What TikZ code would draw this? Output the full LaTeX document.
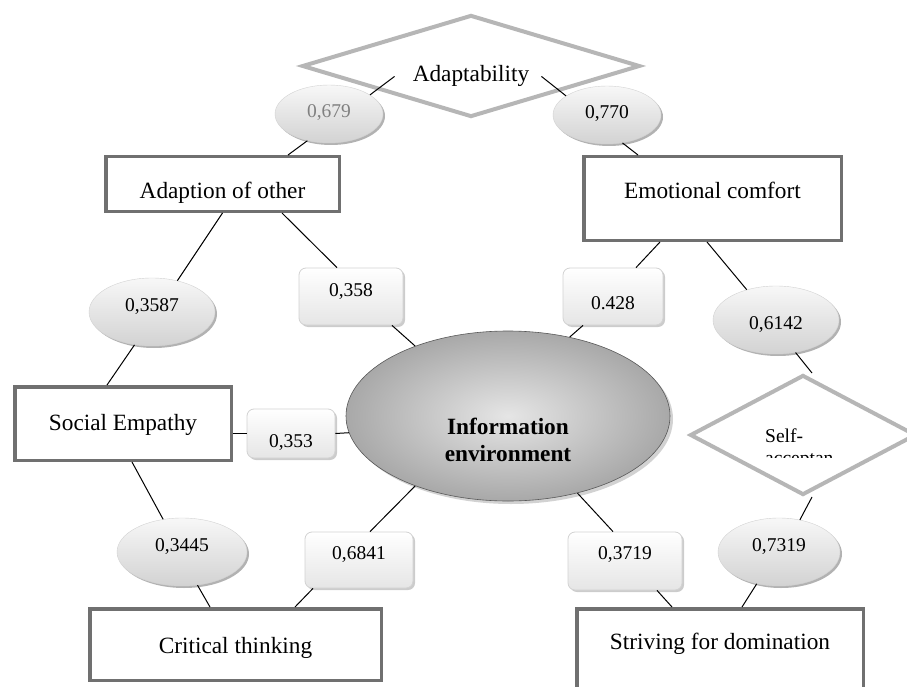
\documentclass[tikz,border=0pt]{standalone}
\usepackage{fontspec}
\setmainfont{Liberation Serif}
\usetikzlibrary{shapes.geometric,shadows}
\definecolor{framegray}{RGB}{112,112,112}
\definecolor{diagray}{RGB}{182,182,182}
\newcommand\lift[2]{\raisebox{#1}[\height][\depth]{#2}}
\begin{document}
\begin{tikzpicture}[x=1pt,y=-1pt,
  lbl/.style={font=\fontsize{23.3}{28}\selectfont},
  frame/.style={draw=framegray, line width=3.5pt, fill=white, inner sep=0pt, lbl},
  diam/.style={shape=diamond, draw=diagray, line width=4pt, fill=white, inner sep=0pt},
  num/.style={font=\fontsize{19.5}{23}\selectfont, inner sep=0pt},
  numell/.style={num, shape=ellipse, draw=gray!35, line width=0.4pt, top color=gray!6, bottom color=gray!35,
    drop shadow={shadow xshift=2pt, shadow yshift=-2pt, fill=gray!60, opacity=1}},
  numbox/.style={num, rectangle, rounded corners=7pt, draw=gray!35, line width=0.8pt, top color=white, bottom color=gray!20,
    drop shadow={shadow xshift=2pt, shadow yshift=-2pt, fill=gray!40, opacity=1}},
  infoell/.style={shape=ellipse, draw=gray!70!black, line width=0.6pt, inner sep=0pt,
    shading=radial, inner color=gray!20, outer color=gray!68,
    drop shadow={shadow xshift=3pt, shadow yshift=-3pt, fill=gray!35, opacity=1},
    font=\fontsize{23.3}{27}\selectfont\bfseries},
  link/.style={draw=black, line width=1pt}
]
\useasboundingbox (0,0) rectangle (907,687);
\clip (0,0) rectangle (907,687);

% diamonds and boxes
\node[diam, minimum width=338, minimum height=102] (adaptD) at (471,66) {};
\node[lbl, anchor=base, inner sep=0pt] (adaptT) at (471,82) {Adaptability};

\node[numell, minimum width=108, minimum height=58, text=black!50] (e679) at (329,114) {\lift{1pt}{0,679}};
\node[numell, minimum width=108, minimum height=58] (e770) at (607,115) {\lift{1pt}{0,770}};

\node[frame, minimum width=233.5, minimum height=54.5] (adopt) at (222.5,184) {\lift{-8.5pt}{Adaption of other}};
\node[frame, minimum width=257.5, minimum height=83.5] (emo) at (712.5,198.5) {\lift{8.5pt}{Emotional comfort}};

\node[numell, minimum width=126, minimum height=68] (e3587) at (152,312) {\lift{5pt}{0,3587}};
\node[numbox, minimum width=104, minimum height=57] (b358) at (351,296.5) {\lift{4.5pt}{0,358}};
\node[numbox, minimum width=100, minimum height=57] (b428) at (613,296.5) {\lift{-7pt}{0.428}};
\node[numell, minimum width=126, minimum height=68] (e6142) at (776,320) {\lift{-5pt}{0,6142}};

\node[frame, minimum width=216.5, minimum height=73.5] (soc) at (123,423.5) {\lift{-1pt}{Social Empathy}};
\node[numbox, minimum width=88, minimum height=49] (b353) at (291,433.5) {\lift{-9pt}{0,353}};

\node[infoell, minimum width=324, minimum height=170] (info) at (508,416)
  {\lift{-27pt}{\begin{tabular}{@{}c@{}}Information\\environment\end{tabular}}};

\node[diam, minimum width=226, minimum height=120] (sa) at (803,435) {};
\begin{scope}
  \clip (755,415) rectangle (832,457);
  \node[num, anchor=base west] (saT1) at (765,442) {Self-};
  \node[num, anchor=base west] (saT2) at (765,464) {acceptance};
\end{scope}

\node[numell, minimum width=130, minimum height=68] (e3445) at (182,552) {\lift{5pt}{0,3445}};
\node[numbox, minimum width=108, minimum height=56] (b6841) at (359,560) {\lift{5pt}{0,6841}};
\node[numbox, minimum width=114, minimum height=58] (b3719) at (625,561) {\lift{6pt}{0,3719}};
\node[numell, minimum width=122, minimum height=68] (e7319) at (779,552) {\lift{5pt}{0,7319}};

\node[frame, minimum width=291.5, minimum height=71.5] (crit) at (235.5,644.5) {\lift{-3pt}{Critical thinking}};
\node[frame, minimum width=286.5, minimum height=89.5] (striv) at (720,653.5) {\lift{10pt}{Striving for domination}};

% connectors
\draw[link] ([xshift=-18pt]adaptT.west) -- (e679.25);
\draw[link] ([xshift=12pt]adaptT.east) -- (e770.155);
\draw[link] (e679.-129) -- ([xshift=65.5pt]adopt.north);
\draw[link] (e770.-61) -- ([xshift=-74.5pt]emo.north);
\draw[link] (adopt.south) -- (e3587.51);
\draw[link] ([xshift=59.5pt]adopt.south) -- ([xshift=-14pt]b358.north);
\draw[link] ([xshift=41pt]b358.south) -- (info.143);
\draw[link] (e3587.-118) -- ([xshift=-16pt]soc.north);
\draw[link] (soc.east |- b353.west) -- (b353.west);
\draw[link] (b353.east) -- (info.186);
\draw[link] ([xshift=9pt]soc.south) -- (e3445.120);
\draw[link] (e3445.-65) -- ([xshift=-25.5pt]crit.north);
\draw[link] ([xshift=59.5pt]crit.north) -- ([xshift=-46pt]b6841.south);
\draw[link] ([xshift=11pt]b6841.north) -- (info.-143);
\draw[link] (info.-48) -- ([xshift=-12pt]b3719.north);
\draw[link] ([xshift=32pt]b3719.south) -- ([xshift=-48pt]striv.north);
\draw[link] ([xshift=22pt]striv.north) -- (e7319.-125);
\draw[link] (e7319.57) -- ([xshift=9pt]sa.south);
\draw[link] (e6142.-59) -- ([xshift=9pt]sa.north);
\draw[link] ([xshift=-5.5pt]emo.south) -- (e6142.134);
\draw[link] ([xshift=-52.5pt]emo.south) -- ([xshift=23pt]b428.north);
\draw[link] ([xshift=-30pt]b428.south) -- (info.52);
\end{tikzpicture}
\end{document}
